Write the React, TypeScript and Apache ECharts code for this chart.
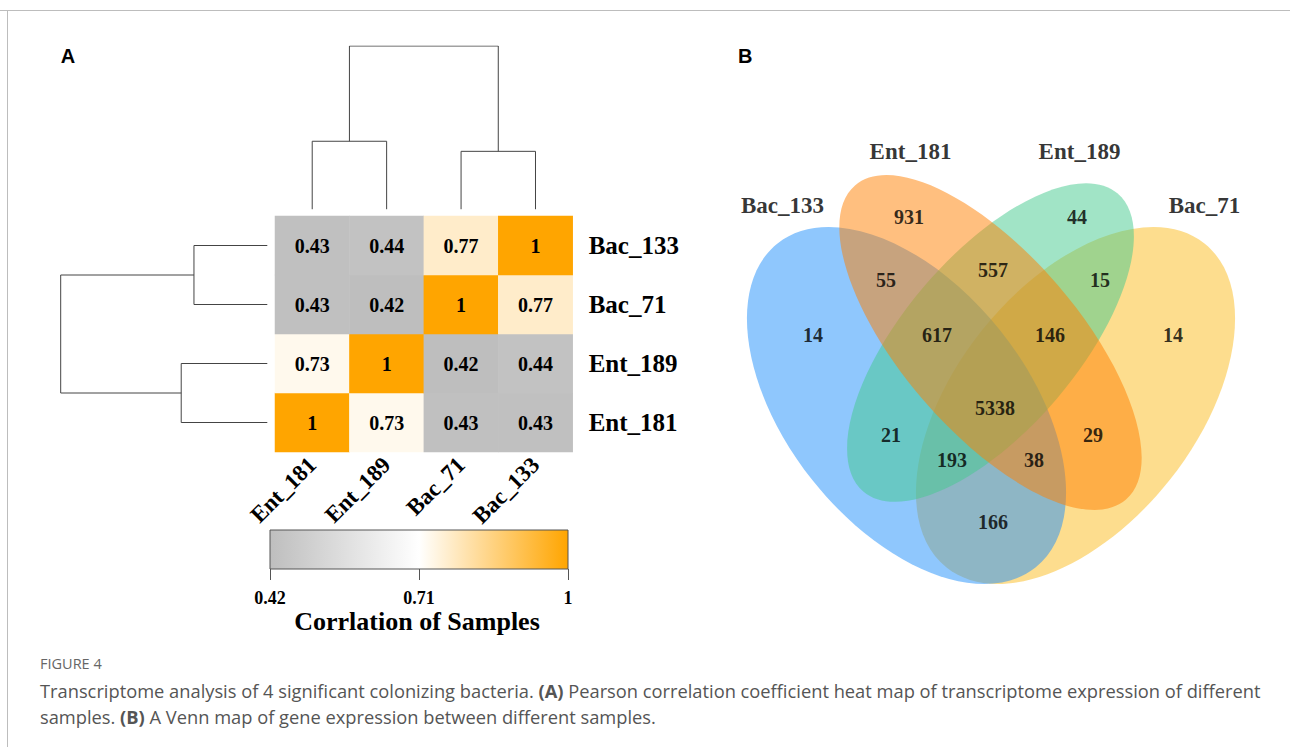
import React, { useEffect, useRef } from "react";
import * as echarts from "echarts";

// ---------- Panel A: correlation heat map ----------
const sampleCols = ["Ent_181", "Ent_189", "Bac_71", "Bac_133"]; // left -> right
const sampleRows = ["Ent_181", "Ent_189", "Bac_71", "Bac_133"]; // bottom -> top
const corrEnt181 = [1, 0.73, 0.43, 0.43];
const corrEnt189 = [0.73, 1, 0.42, 0.44];
const corrBac71 = [0.43, 0.42, 1, 0.77];
const corrBac133 = [0.43, 0.44, 0.77, 1];
const corrRows = [corrEnt181, corrEnt189, corrBac71, corrBac133]; // same order as sampleRows

const colorMin = 0.42;
const colorMax = 1;
const colorbarTicks = [0.42, 0.71, 1];
const colorRamp = ["#bebebe", "#ffffff", "#ffa500"];
const colorbarTitle = "Corrlation of Samples";

// dendrogram merge heights (distance units)
const mergeEnt = 0.25;
const mergeBac = 0.213;
const mergeRoot = 0.6;

// ---------- Panel B: Venn ----------
const vennSets = ["Bac_133", "Ent_181", "Ent_189", "Bac_71"];
const vennRegions = [
  "Bac_133", "Ent_181", "Ent_189", "Bac_71",
  "Bac_133&Ent_181", "Ent_181&Ent_189", "Ent_189&Bac_71",
  "Bac_133&Ent_181&Ent_189", "Ent_181&Ent_189&Bac_71", "all",
  "Bac_133&Ent_189", "Ent_181&Bac_71",
  "Bac_133&Ent_189&Bac_71", "Bac_133&Ent_181&Bac_71", "Bac_133&Bac_71",
];
const vennCounts = [14, 931, 44, 14, 55, 557, 15, 617, 146, 5338, 21, 29, 193, 38, 166];

// layout (Venn units, y up)
const vennLabelPos = [
  [0.146, 0.55], [0.338, 0.786], [0.674, 0.786], [0.866, 0.55],
  [0.292, 0.66], [0.506, 0.68], [0.72, 0.66],
  [0.394, 0.55], [0.62, 0.55], [0.51, 0.404],
  [0.302, 0.35], [0.706, 0.35],
  [0.424, 0.3], [0.588, 0.3], [0.506, 0.176],
];
const vennSetLabelPos = [[0.085, 0.81], [0.341, 0.918], [0.679, 0.918], [0.929, 0.81]];
// drawing order: Bac_71, Bac_133, Ent_189, Ent_181
const vennEllipses = [
  { cx: 0.671, cy: 0.409, rx: 0.414, ry: 0.24, angle: 51.5, color: "rgba(251,187,29,0.5)" },
  { cx: 0.333, cy: 0.409, rx: 0.414, ry: 0.24, angle: -51.5, color: "rgba(31,143,251,0.5)" },
  { cx: 0.501, cy: 0.535, rx: 0.392, ry: 0.174, angle: 49.5, color: "rgba(68,202,142,0.5)" },
  { cx: 0.501, cy: 0.535, rx: 0.415, ry: 0.177, angle: -49.2, color: "rgba(255,127,0,0.5)" },
];

const serif = "'Liberation Serif', 'Times New Roman', serif";
const sans = "'Liberation Sans', Arial, sans-serif";
const capFont = "'Open Sans', 'Noto Sans', sans-serif";

function dendroLinks(swap: boolean) {
  // tree: (Ent_181, Ent_189) and (Bac_71, Bac_133) then root
  const links = [
    [[0.5, 0], [0.5, mergeEnt], [1.5, mergeEnt], [1.5, 0]],
    [[2.5, 0], [2.5, mergeBac], [3.5, mergeBac], [3.5, 0]],
    [[1, mergeEnt], [1, mergeRoot], [3, mergeRoot], [3, mergeBac]],
  ];
  return links.map((l) => (swap ? l.map(([a, b]) => [b, a]) : l));
}

function buildOption() {
  const heatData: number[][] = [];
  sampleRows.forEach((_, yi) => {
    corrRows[yi].forEach((v, xi) => heatData.push([xi, yi, v]));
  });

  const lineBase = {
    type: "line",
    symbol: "none",
    lineStyle: { color: "#444", width: 1 },
    silent: true,
    z: 2,
  };

  const topLinks = dendroLinks(false).map((l) => ({ ...lineBase, xAxisIndex: 1, yAxisIndex: 1, data: l }));
  const leftLinks = dendroLinks(true).map((l) => ({ ...lineBase, xAxisIndex: 2, yAxisIndex: 2, data: l }));

  const hiddenVal = (gridIndex: number, min: number, max: number, inverse = false) => ({
    gridIndex, type: "value", min, max, show: false, inverse,
  });

  const capRich = {
    r: { fontFamily: capFont, fontSize: 18.3, fill: "#555", color: "#555" },
    b: { fontFamily: capFont, fontSize: 18.3, fontWeight: "bold", fill: "#555", color: "#555" },
  };

  return {
    animation: false,
    backgroundColor: "#ffffff",
    grid: [
      { left: 275, top: 216, width: 297.7, height: 236 },
      { left: 275, top: 46, width: 297.7, height: 163.3 },
      { left: 60.7, top: 216, width: 206.6, height: 236 },
      { left: 270, top: 530, width: 298, height: 39 },
      { left: 740, top: 110, width: 500, height: 500 },
    ],
    xAxis: [
      {
        gridIndex: 0, type: "category", data: sampleCols,
        axisLine: { show: false }, axisTick: { show: false }, splitLine: { show: false },
        axisLabel: { rotate: 45, margin: 9, fontFamily: serif, fontWeight: "bold", fontSize: 23, color: "#000" },
      },
      hiddenVal(1, 0, 4),
      hiddenVal(2, 0, mergeRoot, true),
      {
        gridIndex: 3, type: "value", min: colorMin, max: colorMax,
        axisLine: { show: false }, splitLine: { show: false },
        axisTick: { show: true, length: 11, lineStyle: { color: "#555", width: 1 }, customValues: colorbarTicks },
        axisLabel: {
          customValues: colorbarTicks, showMinLabel: true, showMaxLabel: true,
          formatter: (v: number) => String(v),
          margin: 20, fontFamily: serif, fontWeight: "bold", fontSize: 18, color: "#000",
        },
      },
      hiddenVal(4, 0, 1),
    ],
    yAxis: [
      {
        gridIndex: 0, type: "category", data: sampleRows, position: "right",
        axisLine: { show: false }, axisTick: { show: false }, splitLine: { show: false },
        axisLabel: { margin: 16, fontFamily: serif, fontWeight: "bold", fontSize: 25, color: "#000" },
      },
      hiddenVal(1, 0, mergeRoot),
      hiddenVal(2, 0, 4),
      hiddenVal(3, 0, 1),
      hiddenVal(4, 0, 1),
    ],
    visualMap: [
      { type: "continuous", show: false, min: colorMin, max: colorMax, seriesIndex: 0, dimension: 2, inRange: { color: colorRamp } },
    ],
    series: [
      {
        type: "heatmap", xAxisIndex: 0, yAxisIndex: 0, data: heatData, silent: true,
        itemStyle: { borderWidth: 0 },
        label: {
          show: true, formatter: (p: any) => String(p.value[2]),
          fontFamily: serif, fontWeight: "bold", fontSize: 20, color: "#000",
        },
        emphasis: { disabled: true },
      },
      ...topLinks,
      ...leftLinks,
      {
        type: "custom", xAxisIndex: 3, yAxisIndex: 3, silent: true,
        data: [[colorMin, 0, colorMax, 1]],
        encode: { x: [0, 2], y: [1, 3] },
        renderItem: (params: any, api: any) => {
          const p0 = api.coord([api.value(0), api.value(3)]);
          const p1 = api.coord([api.value(2), api.value(1)]);
          return {
            type: "rect",
            shape: { x: p0[0], y: p0[1], width: p1[0] - p0[0], height: p1[1] - p0[1] },
            style: {
              fill: new echarts.graphic.LinearGradient(0, 0, 1, 0,
                colorRamp.map((c, i) => ({ offset: i / (colorRamp.length - 1), color: c }))),
              stroke: "#555", lineWidth: 1,
            },
          };
        },
      },
      {
        type: "custom", xAxisIndex: 4, yAxisIndex: 4, silent: true,
        data: vennEllipses.map((e) => [e.cx, e.cy, e.rx, e.ry, e.angle]),
        encode: { x: 0, y: 1 },
        renderItem: (params: any, api: any) => {
          const c = api.coord([api.value(0), api.value(1)]);
          const s = api.size([api.value(2), api.value(3)]);
          return {
            type: "ellipse",
            x: c[0], y: c[1],
            rotation: (api.value(4) * Math.PI) / 180,
            shape: { cx: 0, cy: 0, rx: s[0], ry: s[1] },
            style: { fill: vennEllipses[params.dataIndex].color, stroke: "none" },
          };
        },
      },
      {
        type: "scatter", xAxisIndex: 4, yAxisIndex: 4, silent: true,
        symbolSize: 1, itemStyle: { color: "rgba(0,0,0,0)" },
        data: vennCounts.map((n, i) => ({ name: vennRegions[i], value: [vennLabelPos[i][0], vennLabelPos[i][1], n] })),
        label: {
          show: true, position: "inside", formatter: (p: any) => String(p.value[2]),
          fontFamily: serif, fontWeight: "bold", fontSize: 20, color: "#000",
        },
        z: 5,
      },
      {
        type: "scatter", xAxisIndex: 4, yAxisIndex: 4, silent: true,
        symbolSize: 1, itemStyle: { color: "rgba(0,0,0,0)" },
        data: vennSets.map((s, i) => ({ name: s, value: [vennSetLabelPos[i][0], vennSetLabelPos[i][1]] })),
        label: {
          show: true, position: "inside", formatter: (p: any) => p.name,
          fontFamily: serif, fontWeight: "bold", fontSize: 23, color: "#000",
        },
        z: 5,
      },
    ],
    graphic: [
      { type: "line", shape: { x1: 0, y1: 10.5, x2: 1290, y2: 10.5 }, style: { stroke: "#bdbdbd", lineWidth: 1 } },
      { type: "line", shape: { x1: 7.5, y1: 10, x2: 7.5, y2: 747 }, style: { stroke: "#bdbdbd", lineWidth: 1 } },
      {
        type: "text", x: 60.7, y: 55.5,
        style: { text: "A", fontFamily: sans, fontWeight: "bold", fontSize: 20, fill: "#000", verticalAlign: "middle", textVerticalAlign: "middle" },
      },
      {
        type: "text", x: 738, y: 55.5,
        style: { text: "B", fontFamily: sans, fontWeight: "bold", fontSize: 20, fill: "#000", verticalAlign: "middle", textVerticalAlign: "middle" },
      },
      {
        type: "text", x: 417, y: 621,
        style: {
          text: colorbarTitle, fontFamily: serif, fontWeight: "bold", fontSize: 26, fill: "#000",
          align: "center", textAlign: "center", verticalAlign: "middle", textVerticalAlign: "middle",
        },
      },
      {
        type: "text", x: 40, y: 663,
        style: { text: "FIGURE 4", fontFamily: capFont, fontSize: 14.5, fill: "#666", verticalAlign: "middle", textVerticalAlign: "middle" },
      },
      {
        type: "text", x: 40, y: 690,
        style: {
          text: "{r|Transcriptome analysis of 4 significant colonizing bacteria. }{b|(A)}{r| Pearson correlation coefficient heat map of transcriptome expression of different}",
          verticalAlign: "middle", textVerticalAlign: "middle",
          rich: capRich,
        },
      },
      {
        type: "text", x: 40, y: 716,
        style: {
          text: "{r|samples. }{b|(B)}{r| A Venn map of gene expression between different samples.}",
          verticalAlign: "middle", textVerticalAlign: "middle",
          rich: capRich,
        },
      },
    ],
  };
}

export default function App() {
  const ref = useRef<HTMLDivElement>(null);
  useEffect(() => {
    if (!ref.current) return;
    const chart = echarts.init(ref.current, null, { renderer: "svg" });
    chart.setOption(buildOption() as any);
    return () => chart.dispose();
  }, []);
  return (
    <div
      ref={ref}
      style={{ position: "fixed", left: 0, top: 0, width: 1290, height: 747, background: "#ffffff" }}
    />
  );
}
